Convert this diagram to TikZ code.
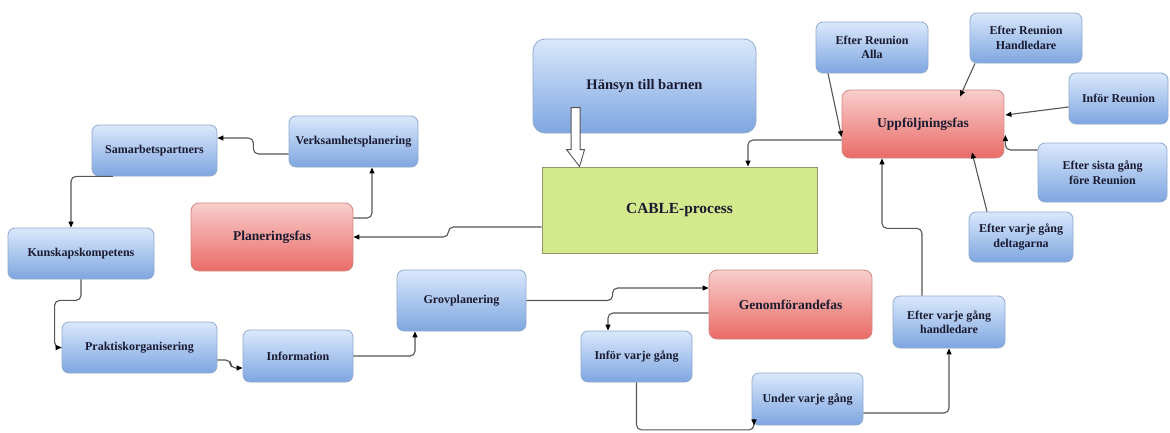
\documentclass[tikz,border=0pt]{standalone}
\usepackage{fontspec}
\setmainfont{Liberation Serif}
\usetikzlibrary{arrows.meta,calc}
\definecolor{bluetop}{HTML}{DAE8FC}
\definecolor{bluebot}{HTML}{7EA6E0}
\definecolor{bluestroke}{HTML}{8FA9CF}
\definecolor{redtop}{HTML}{F8CECC}
\definecolor{redbot}{HTML}{EA6B66}
\definecolor{redstroke}{HTML}{D08880}
\definecolor{greenfill}{HTML}{D4E88C}
\definecolor{greenstroke}{HTML}{8C9868}
\definecolor{txt}{HTML}{1A1A30}
\definecolor{linegray}{HTML}{555555}
\begin{document}
\begin{tikzpicture}[x=1pt,y=-1pt,
  bluebox/.style={rounded corners=7pt, draw=bluestroke, line width=0.8pt,
    top color=bluetop, bottom color=bluebot, text=txt, align=center,
    inner sep=0pt, font=\bfseries\fontsize{12}{14.5}\selectfont},
  redbox/.style={rounded corners=8pt, draw=redstroke, line width=0.8pt,
    top color=redtop, bottom color=redbot, text=txt, align=center,
    inner sep=0pt, font=\bfseries\fontsize{13.5}{16}\selectfont},
  greenbox/.style={draw=greenstroke, line width=0.9pt, fill=greenfill,
    text=txt, align=center, inner sep=0pt,
    font=\bfseries\fontsize{15.4}{18}\selectfont},
  conn/.style={draw=linegray, line width=1.1pt, rounded corners=5pt,
    -{Triangle[length=6pt,width=5pt,color=black]}},
  hollow/.style={draw=linegray, line width=0.9pt, fill=white, line join=miter}
]
\useasboundingbox (0,0) rectangle (1170,432);

% nodes
\node[bluebox, rounded corners=12pt, minimum width=223pt, minimum height=94pt,
  font=\bfseries\fontsize{14.5}{17}\selectfont] (hansyn) at (644.5,86) {Hänsyn till barnen};
\node[greenbox, minimum width=275pt, minimum height=86pt] (cable) at (679.5,210) {CABLE-process};

\node[redbox, minimum width=162pt, minimum height=68pt] (uppf) at (923,124) {Uppföljningsfas};
\node[redbox, minimum width=162pt, minimum height=68pt] (planer) at (272,237) {Planeringsfas};
\node[redbox, minimum width=163pt, minimum height=69pt] (genomf) at (790.5,304.5) {Genomförandefas};

\node[bluebox, minimum width=125pt, minimum height=51pt] (samarb) at (154.5,150.5) {Samarbetspartners};
\node[bluebox, minimum width=129pt, minimum height=51pt] (verks) at (353.5,141.5) {Verksamhetsplanering};
\node[bluebox, minimum width=146pt, minimum height=51pt] (kunsk) at (81,253.5) {Kunskapskompetens};
\node[bluebox, minimum width=155pt, minimum height=51pt] (prakt) at (139.5,347.5) {Praktiskorganisering};
\node[bluebox, minimum width=110pt, minimum height=52pt] (info) at (298,356) {Information};
\node[bluebox, minimum width=129pt, minimum height=61pt] (grov) at (461.5,300.5) {Grovplanering};
\node[bluebox, minimum width=111pt, minimum height=51pt] (inforvg) at (636.5,356.5) {Inför varje gång};
\node[bluebox, minimum width=111pt, minimum height=52pt] (under) at (807.5,399) {Under varje gång};
\node[bluebox, minimum width=112pt, minimum height=52pt] (efterhandl) at (949,322) {Efter varje gång\\handledare};

\node[bluebox, minimum width=112pt, minimum height=51pt] (eralla) at (872,47.5) {Efter Reunion\\Alla};
\node[bluebox, minimum width=112pt, minimum height=50pt] (erhandl) at (1026,38) {Efter Reunion\\Handledare};
\node[bluebox, minimum width=99pt, minimum height=51pt] (inforr) at (1118.5,98.5) {Inför Reunion};
\node[bluebox, minimum width=129pt, minimum height=59pt] (sista) at (1102.5,172.5) {Efter sista gång\\före Reunion};
\node[bluebox, minimum width=104pt, minimum height=50pt] (deltag) at (1021,237) {Efter varje gång\\deltagarna};

% hollow arrow Hänsyn -> CABLE
\draw[hollow] ($(cable.north west)+(38,0)$) -- ++(-13,-17) -- ++(4.5,0) -- ++(0,-42)
  -- ++(9,0) -- ++(0,42) -- ++(4.5,0) -- cycle;

% connectors
\draw[conn] ($(uppf.west)+(0,16)$) -| ($(cable.north)+(68.5,0)$);
\draw[conn] ($(cable.west)+(0,17)$) -| ($(planer.east)+(95,0)$) -- (planer.east);
\draw[conn] ($(planer.east)+(0,-19)$) -| ($(verks.south)+(18.5,0)$);
\draw[conn] ($(verks.west)+(0,12.5)$) -| ($(samarb.east)+(36,-12.5)$) -- ($(samarb.east)+(0,-12.5)$);
\draw[conn] ($(samarb.south)+(-41.5,0)$) -| ($(kunsk.north)+(-10,0)$);
\draw[conn] (kunsk.south) -- ++(0,21) -| ($(prakt.west)+(-7,0)$) -- (prakt.west);
\draw[conn] ($(prakt.east)+(0,12.5)$) -| ($(info.west)+(-12,12)$) -- ($(info.west)+(0,12)$);
\draw[conn] (info.east) -| ($(grov.south)+(-46.5,0)$);
\draw[conn] (grov.east) -| ($(genomf.west)+(-96,-16.5)$) -- ($(genomf.west)+(0,-16.5)$);
\draw[conn] ($(genomf.west)+(0,8.5)$) -| ($(inforvg.north)+(-28.5,0)$);
\draw[conn] (inforvg.south) |- ($(under.south)+(-53.5,4.5)$) -- ($(under.south)+(-53.5,0)$);
\draw[conn] ($(under.east)+(0,14)$) -| (efterhandl.south);
\draw[conn] ($(efterhandl.north)+(-27,0)$) |- ($(uppf.south)+(-41,70)$) -- ($(uppf.south)+(-41,0)$);

\draw[conn] ($(eralla.south)+(-44,0)$) -- ($(uppf.west)+(0,13)$);
\draw[conn] ($(erhandl.south)+(-51,0)$) -- ($(uppf.north)+(37,7)$);
\draw[conn] ($(inforr.west)+(0,8.5)$) -- ($(uppf.east)+(1,-9)$);
\draw[conn] ($(sista.west)+(0,-22.5)$) -| ($(uppf.east)+(1,11)$);
\draw[conn] ($(deltag.north)+(-34,0)$) -- ($(uppf.south)+(49,-6)$);
\end{tikzpicture}
\end{document}
